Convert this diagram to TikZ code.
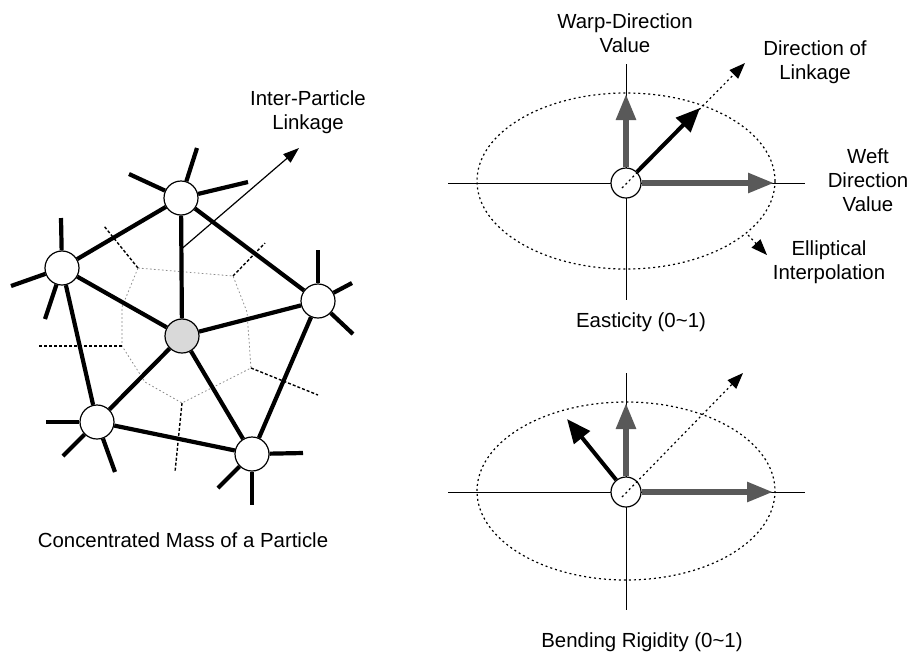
\documentclass[tikz,border=0pt]{standalone}
\usepackage{fontspec}
\setmainfont{Liberation Sans}
\usetikzlibrary{arrows.meta,calc}

\begin{document}
\begin{tikzpicture}[x=0.5pt, y=-0.5pt,
  font=\fontsize{10.2pt}{12pt}\selectfont,
  particle/.style={circle, draw, line width=0.6pt, fill=white, minimum size=17pt, inner sep=0pt},
  link/.style={line width=2.1pt},
  cell/.style={black!45, line width=0.4pt, dash pattern=on 0.8pt off 1.2pt},
  border/.style={line width=0.7pt, dash pattern=on 1.5pt off 1pt},
  axis/.style={line width=0.5pt},
  hub/.style={circle, draw, line width=0.6pt, fill=white, minimum size=15pt, inner sep=0pt},
  valarrow/.style={black!65, line width=2.8pt, -{Triangle[length=13pt, width=9.5pt]}},
  bendarrow/.style={line width=2pt, -{Triangle[length=12pt, width=10pt]}},
  dotarrow/.style={line width=0.6pt, dash pattern=on 1pt off 1.5pt, -{Triangle[length=8pt, width=6pt]}},
  interp/.style={line width=0.6pt, dash pattern=on 1pt off 1.5pt},
  caption/.style={align=center, inner sep=0pt}]
\useasboundingbox (0,0) rectangle (914,655);

% particle net
\coordinate (v1) at (138,268);
\coordinate (v2) at (233,276);
\coordinate (v3) at (251,368);
\coordinate (v4) at (182,403);
\coordinate (v5) at (122,346);
\draw[cell] (v1) -- (v2) -- (247,312) -- (v3) -- (v4) -- (145,382) -- (v5) -- (122,307) -- cycle;
\foreach \v/\x/\y in {v1/104/226, v2/265/243, v3/318/395, v4/175/472, v5/39/346}
  \draw[border] (\v) -- (\x,\y);

\node[particle] (top) at (181,198) {};
\node[particle] (left) at (62,268) {};
\node[particle] (right) at (318,301) {};
\node[particle] (botleft) at (97,422) {};
\node[particle] (botright) at (252,454) {};
\node[particle, fill=black!15] (mass) at (182,336) {};

\draw[link] (top) -- (left) -- (botleft) -- (botright) -- (right) -- (top);
\foreach \p in {top,left,right,botleft,botright}
  \draw[link] (mass) -- (\p);
\foreach \p/\x/\y in {top/197/148, top/129/174, top/248/182,
    left/61/218, left/11/286, left/45/319,
    right/318/250, right/352/283, right/353/334,
    botleft/46/422, botleft/63/456, botleft/115/472,
    botright/303/453, botright/218/488, botright/252/505}
  \draw[link] (\p) -- (\x,\y);

\coordinate (linkbase) at ($(top)!0.37!(mass)$);
\coordinate (linktip) at (299,148);
\draw[line width=0.6pt, -{Triangle[length=8pt, width=5.5pt]}] (linkbase) -- (linktip);
\node[caption] (linklab) at (308,112) {Inter-Particle\\Linkage};
\node[caption] (masscap) at (183,540) {Concentrated Mass of a Particle};

% elasticity
\coordinate (o1) at (626,183);
\draw[axis] (448,183) -- (805,183);
\draw[axis] (626,64) -- (626,300);
\draw[interp] (626,181) ellipse [x radius=149, y radius=88];
\node[hub] (hub1) at (o1) {};
\coordinate (warp1) at (626,94);
\coordinate (weft1) at (774,183);
\coordinate (bend1) at (700,108);
\coordinate (dir1) at (745,63);
\coordinate (onell) at (748,235);
\coordinate (ellptr) at (767,255);
\draw[dotarrow] ([shift={(-4,5)}]hub1.center) -- (dir1);
\draw[valarrow] (hub1) -- (warp1);
\draw[valarrow] (hub1) -- (weft1);
\draw[bendarrow] (hub1) -- (bend1);
\draw[dotarrow] (onell) -- (ellptr);
\node[caption] (warplab) at (625,33) {Warp-Direction\\Value};
\node[caption] (dirlab) at (815,62) {Direction of\\Linkage};
\node[caption] (weftlab) at (868,180) {Weft\\Direction\\Value};
\node[caption] (elllab) at (829,262) {Elliptical\\Interpolation};
\node[caption] (elastcap) at (641,322) {Easticity (0\textasciitilde1)};

% bending rigidity
\coordinate (o2) at (626,492);
\draw[axis] (448,492) -- (805,492);
\draw[axis] (626,373) -- (626,610);
\draw[interp] (626,491) ellipse [x radius=149, y radius=89];
\node[hub] (hub2) at (o2) {};
\coordinate (warp2) at (626,403);
\coordinate (weft2) at (773,492);
\coordinate (bend2) at (567,419);
\coordinate (dir2) at (743,373);
\draw[dotarrow] ([shift={(-4,5)}]hub2.center) -- (dir2);
\draw[valarrow] (hub2) -- (warp2);
\draw[valarrow] (hub2) -- (weft2);
\draw[bendarrow] (hub2) -- (bend2);
\node[caption] (bendcap) at (642,642) {Bending Rigidity (0\textasciitilde1)};
\end{tikzpicture}
\end{document}
